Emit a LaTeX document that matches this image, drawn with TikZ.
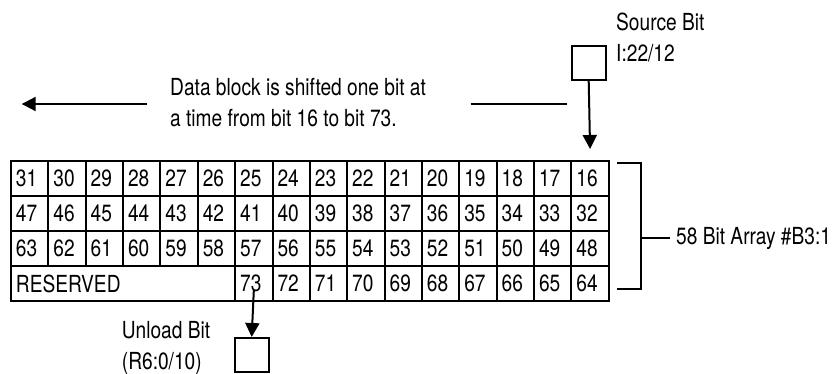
\documentclass[tikz,border=0pt]{standalone}
\usepackage{fontspec}
\setmainfont{TeX Gyre Heros}[FakeStretch=0.815]
\usetikzlibrary{arrows.meta}
\begin{document}
\begin{tikzpicture}[x=1pt,y=1pt,
  every node/.style={font=\fontsize{23.5}{31}\selectfont, inner sep=0pt},
  cell/.style={draw, line width=2pt, minimum width=37.36pt, minimum height=35pt, text width=27.36pt, align=left, inner xsep=5pt, anchor=north west},
  wide/.style={draw, line width=2pt, minimum width=6*37.36pt, minimum height=35pt, text width=6*37.36pt-10pt, align=left, inner xsep=5pt, anchor=north west},
  conn/.style={line width=2pt},
  arr/.style={line width=2pt, -{Triangle[length=14pt,width=14pt]}},
  bitbox/.style={draw, line width=2pt, minimum size=34pt},
  lbl/.style={align=left, anchor=base west}
]
\useasboundingbox (0,0) rectangle (836,-373);
% grid
\foreach \r in {0,1,2} {
  \foreach \c in {0,...,15} {
    \pgfmathtruncatemacro{\n}{31-\c+16*\r}
    \node[cell] (n\n) at ({10+37.36*\c},{-160-35*\r}) {\n};
  }
}
\node[wide] (res) at (10,-265) {RESERVED};
\foreach \c in {6,...,15} {
  \pgfmathtruncatemacro{\n}{79-\c}
  \node[cell] (n\n) at ({10+37.36*\c},-265) {\n};
}
% source bit
\node[bitbox] (src) at (588.7,-62.7) {};
\node[lbl] (srclbl) at (616,-61) {Source Bit\\I:22/12};
\draw[arr] (src.south) -- ([yshift=11pt]n16.north);
% shift text and arrows
\node[lbl] (shift) at (170,-126) {Data block is shifted one bit at\\a time from bit 16 to bit 73.};
\coordinate (la) at (146.7,-104);
\coordinate (lb) at (21.7,-104);
\coordinate (ra) at (470.7,-104);
\coordinate (rb) at (566.7,-104);
\draw[arr] (la) -- (lb);
\draw[conn] (ra) -- (rb);
% bracket
\coordinate (bt1) at (617,-163.3);
\coordinate (bt2) at (641,-163.3);
\coordinate (bb2) at (641,-289.3);
\coordinate (bb1) at (617,-289.3);
\coordinate (bm) at (641,-238);
\draw[conn] (bt1) -- (bt2) -- (bb2) -- (bb1);
\node[lbl, anchor=west] (arrlbl) at (676,-238) {58 Bit Array \#B3:1};
\draw[conn] (bm) -- ([xshift=-6pt]arrlbl.west);
% unload bit
\node[bitbox] (unl) at (251.7,-355) {};
\node[lbl] (unllbl) at (121.7,-369.5) {Unload Bit\\(R6:0/10)};
\draw[arr] ([yshift=-25pt]n73.north) -- (unl.north);
\end{tikzpicture}
\end{document}
